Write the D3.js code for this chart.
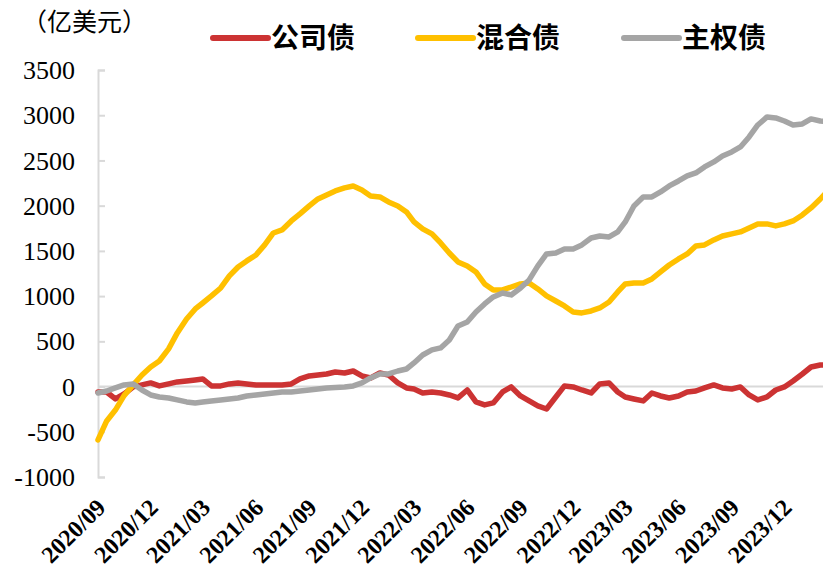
<!DOCTYPE html>
<html><head><meta charset="utf-8">
<script src="https://cdn.jsdelivr.net/npm/d3@7"></script>
<style>body{margin:0;background:#fff;} svg{display:block;}</style>
</head><body>
<svg id="c" width="823" height="572"></svg>
<script>
// ---- data (semi-monthly points from 2020-09-01) ----
const seriesNames = ["公司债", "混合债", "主权债"];
const corporate = [-60,-60,-137,-82,-4,18,40,7,29,51,
  62,73,84,7,7,29,40,29,18,18,
  18,18,29,84,117,128,139,161,150,172,
  117,95,150,128,40,-15,-27,-71,-60,-71,
  -93,-126,-38,-170,-203,-181,-60,-4,-104,-159,
  -214,-248,-115,7,-4,-38,-71,29,40,-60,
  -115,-137,-159,-71,-104,-126,-104,-60,-49,-15,
  18,-15,-27,-4,-93,-148,-115,-38,-4,62,
  139,216,238,240];
const hybrid = [-590,-380,-260,-100,20,128,217,283,416,593,
  747,858,924,1002,1090,1223,1322,1389,1455,1566,
  1698,1732,1831,1909,1997,2074,2119,2163,2196,2218,
  2174,2108,2097,2041,1997,1931,1820,1743,1688,1588,
  1477,1378,1334,1267,1135,1068,1068,1101,1135,1146,
  1079,1002,946,891,825,814,836,869,935,1046,
  1135,1146,1146,1190,1267,1344,1411,1466,1555,1566,
  1621,1665,1688,1710,1754,1798,1798,1776,1798,1831,
  1897,1975,2074,2180];
const sovereign = [-71,-49,-15,18,29,-38,-93,-115,-126,-148,
  -170,-181,-170,-159,-148,-137,-126,-104,-93,-82,
  -71,-60,-60,-49,-38,-27,-15,-10,-4,7,
  40,95,139,139,172,194,261,349,405,427,
  515,670,714,825,913,991,1035,1013,1090,1179,
  1334,1466,1477,1522,1522,1566,1643,1665,1654,1710,
  1820,1997,2096,2096,2152,2218,2273,2329,2362,2428,
  2484,2550,2594,2649,2760,2892,2981,2970,2936,2892,
  2903,2959,2936,2930];
const xTickLabels = ["2020/09","2020/12","2021/03","2021/06","2021/09","2021/12","2022/03",
  "2022/06","2022/09","2022/12","2023/03","2023/06","2023/09","2023/12"];
const yTicks = [-1000,-500,0,500,1000,1500,2000,2500,3000,3500];
const colors = ["#CC3333", "#FFC000", "#A5A5A5"];

// semi-monthly dates (1st and 16th of each month)
const dates = [];
for (let m = 0; m < corporate.length / 2; m++) {
  dates.push(new Date(2020, 8 + m, 1));
  dates.push(new Date(2020, 8 + m, 16));
}
const parseTick = d3.timeParse("%Y/%m");

const svg = d3.select("#c");
const x = d3.scaleTime()
  .domain([new Date(2020, 8, 1), new Date(2023, 11, 1)])
  .range([98, 784.4]);
const y = d3.scaleLinear().domain([-1000, 3500]).range([477, 70]);

// y axis
const yAxis = svg.append("g").attr("transform", "translate(98,0)")
  .call(d3.axisRight(y).tickValues(yTicks).tickSize(7).tickFormat(""));
yAxis.select(".domain").attr("stroke", "#d9d9d9").attr("stroke-width", 2);
yAxis.selectAll(".tick line").attr("stroke", "#d9d9d9").attr("stroke-width", 2);
svg.append("g").selectAll("text").data(yTicks).join("text")
  .attr("x", 75).attr("y", d => y(d)).attr("dy", "0.35em")
  .attr("text-anchor", "end")
  .style("font-family", "'Liberation Serif', 'Times New Roman', serif")
  .style("font-size", "26px").attr("fill", "#000")
  .text(d => d);

// zero line (x axis)
svg.append("line").attr("x1", 98).attr("x2", 823)
  .attr("y1", y(0)).attr("y2", y(0))
  .attr("stroke", "#d9d9d9").attr("stroke-width", 2);

// x labels
svg.append("g").selectAll("text").data(xTickLabels).join("text")
  .attr("transform", d => `translate(${x(parseTick(d)) - 3},${497}) rotate(-45)`)
  .attr("text-anchor", "end").attr("dy", "0.7em")
  .style("font-family", "'Liberation Serif', 'Times New Roman', serif")
  .style("font-size", "24px").style("font-weight", "bold").attr("fill", "#000")
  .text(d => d);

// lines
const line = d3.line().x((d, i) => x(dates[i])).y(d => y(d)).curve(d3.curveLinear);
[corporate, hybrid, sovereign].forEach((s, i) => {
  svg.append("path").datum(s).attr("d", line)
    .attr("fill", "none").attr("stroke", colors[i]).attr("stroke-width", 5.5)
    .attr("stroke-linejoin", "round").attr("stroke-linecap", "round");
});

// unit label
svg.append("text").attr("x", 22).attr("y", 31)
  .style("font-family", "'Noto Sans CJK SC', sans-serif").style("font-size", "25px")
  .attr("fill", "#000").text("（亿美元）");

// legend
const legX = [213, 418, 624];
seriesNames.forEach((n, i) => {
  svg.append("line").attr("x1", legX[i]).attr("x2", legX[i] + 55)
    .attr("y1", 38).attr("y2", 38)
    .attr("stroke", colors[i]).attr("stroke-width", 6).attr("stroke-linecap", "round");
  svg.append("text").attr("x", legX[i] + 58).attr("y", 38).attr("dy", "0.36em")
    .style("font-family", "'Noto Sans CJK SC', sans-serif").style("font-size", "28px")
    .style("font-weight", "bold").attr("fill", "#000").text(n);
});
</script>
</body></html>
